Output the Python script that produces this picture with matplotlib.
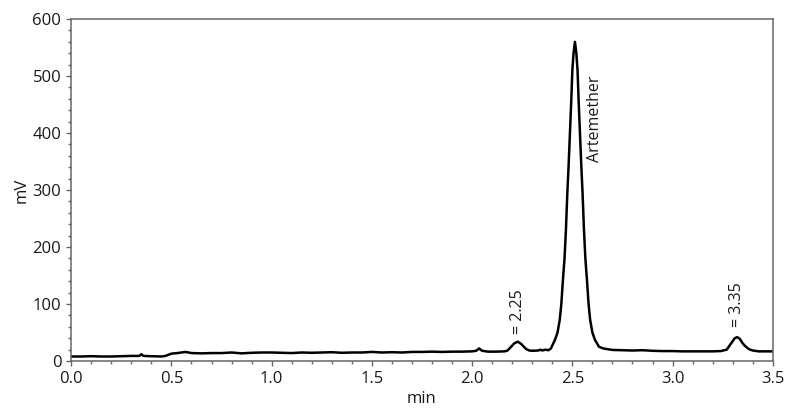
"""Chromatogram of the artemether sample (detector signal in mV vs. retention time)."""

import matplotlib

matplotlib.use("Agg")
import matplotlib.pyplot as plt
from matplotlib.ticker import MultipleLocator

plt.rcParams["font.family"] = ["Open Sans", "DejaVu Sans"]

# Trace: retention time (min) and signal (mV).
time_min = [
    0.00, 0.05, 0.10, 0.15, 0.20, 0.25, 0.30, 0.34, 0.35, 0.36, 0.40, 0.45,
    0.47, 0.50, 0.53, 0.57, 0.60, 0.65, 0.70, 0.75, 0.80, 0.85, 0.90, 0.95,
    1.00, 1.05, 1.10, 1.15, 1.20, 1.25, 1.30, 1.35, 1.40, 1.45, 1.50, 1.55,
    1.60, 1.65, 1.70, 1.75, 1.80, 1.85, 1.90, 1.95, 2.00, 2.02, 2.035, 2.05,
    2.08, 2.12, 2.16, 2.175, 2.196, 2.21, 2.228, 2.245, 2.257, 2.27, 2.285,
    2.30, 2.33, 2.34, 2.35, 2.365, 2.38, 2.393,
    # main peak, rising edge
    2.413, 2.426, 2.437, 2.445, 2.453, 2.461, 2.468, 2.475, 2.481, 2.488,
    2.495, 2.500, 2.506, 2.513,
    # falling edge
    2.520, 2.526, 2.531, 2.538, 2.545, 2.551, 2.558, 2.565, 2.573, 2.581,
    2.589, 2.600, 2.613, 2.633, 2.655,
    2.70, 2.75, 2.80, 2.85, 2.90, 2.95, 3.00, 3.05, 3.10, 3.15, 3.20, 3.24,
    3.27, 3.29, 3.31, 3.322, 3.335, 3.35, 3.36, 3.38, 3.40, 3.43, 3.45, 3.50,
]
signal_mv = [
    8.0, 8.0, 8.5, 8.0, 8.0, 8.5, 9.0, 9.0, 12.0, 9.0, 8.5, 8.0,
    9.0, 13.0, 14.0, 16.0, 14.0, 13.5, 14.0, 14.0, 15.0, 13.5, 14.5, 15.0,
    15.0, 14.5, 14.0, 15.0, 14.5, 15.0, 15.5, 14.5, 15.0, 15.0, 16.0, 15.0,
    15.5, 15.0, 16.0, 16.0, 16.5, 16.0, 16.5, 16.5, 17.0, 18.0, 22.0, 18.0,
    16.5, 16.5, 17.0, 18.0, 25.5, 31.0, 34.0, 30.0, 25.5, 21.0, 18.5,
    18.0, 18.5, 20.0, 18.5, 20.0, 19.0, 22.0,
    37.0, 50.0, 72.0, 100.0, 142.0, 180.0, 230.0, 295.0, 340.0, 400.0,
    460.0, 510.0, 540.0, 560.0,
    540.0, 510.0, 460.0, 400.0, 340.0, 295.0, 230.0, 180.0, 142.0, 100.0,
    72.0, 50.0, 37.0, 25.0, 22.0,
    19.5, 19.0, 18.5, 19.0, 18.0, 17.5, 17.5, 17.0, 17.0, 17.0, 17.0, 17.5,
    20.0, 30.0, 40.0, 42.0, 39.0, 31.0, 27.0, 21.0, 18.5, 17.0, 17.0, 17.0,
]

# Peak labels: (text, time, signal at the foot of the rotated text)
peak_labels = [
    ("= 2.25", 2.228, 48),
    ("Artemether", 2.615, 349),
    ("= 3.35", 3.322, 60),
]

SPINE = "#666666"
TEXT = "#1a1a1a"

fig = plt.figure(figsize=(8.0, 4.15), dpi=100)
ax = fig.add_axes([0.089, 0.130, 0.877, 0.824])

ax.plot(time_min, signal_mv, color="black", linewidth=1.8,
        solid_joinstyle="round", solid_capstyle="round")

for text, t, mv in peak_labels:
    ax.text(t, mv, text, rotation=90, ha="center", va="bottom",
            fontsize=11.5, color=TEXT)

ax.set_xlim(0, 3.5)
ax.set_ylim(0, 600)
ax.xaxis.set_major_locator(MultipleLocator(0.5))
ax.xaxis.set_minor_locator(MultipleLocator(0.1))
ax.yaxis.set_major_locator(MultipleLocator(100))
ax.yaxis.set_minor_locator(MultipleLocator(20))
ax.xaxis.set_major_formatter(plt.FormatStrFormatter("%.1f"))

for spine in ax.spines.values():
    spine.set_color(SPINE)
    spine.set_linewidth(1.1)

ax.tick_params(which="both", direction="out", color=SPINE, width=1.0,
               labelsize=12, labelcolor=TEXT)
ax.tick_params(which="major", length=3.6)
ax.tick_params(which="minor", length=2.4)

ax.set_xlabel("min", fontsize=12, color=TEXT, labelpad=3)
ax.set_ylabel("mV", fontsize=12, color=TEXT, labelpad=2)

fig.savefig("out.png", dpi=100)
